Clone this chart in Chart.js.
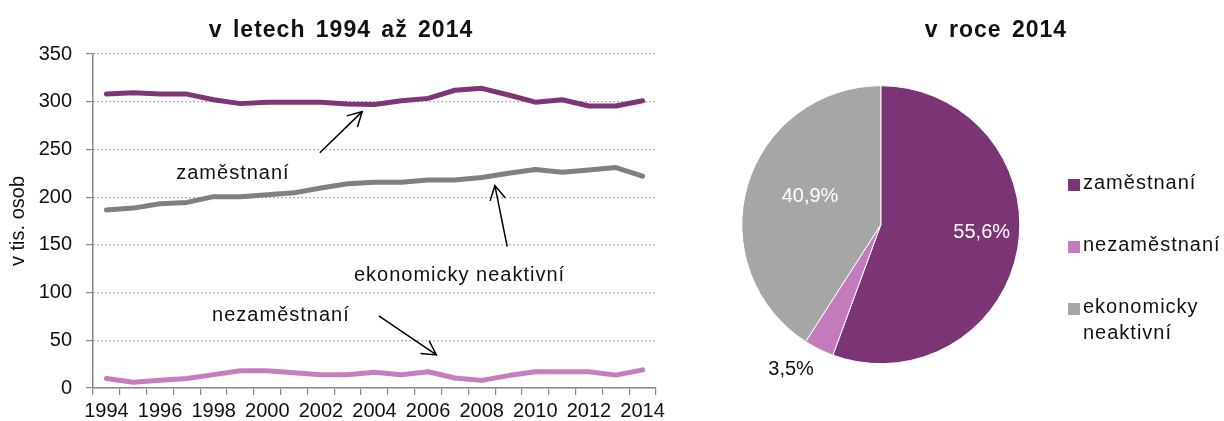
<!DOCTYPE html>
<html lang="cs">
<head>
<meta charset="UTF-8">
<title>Obyvatelstvo podle ekonomické aktivity</title>
<script src="https://cdn.jsdelivr.net/npm/chart.js@4"></script>
<style>
  body { margin: 0; background: #fff; font-family: "Liberation Sans", Arial, sans-serif; color: #111; }
  #wrap { position: relative; width: 1224px; height: 421px; overflow: hidden; }
  canvas { position: absolute; top: 0; }
  #lineChart { left: 0; }
  #pieChart { left: 700px; }
  .title { position: absolute; top: 16px; font-weight: bold; font-size: 23px; letter-spacing: 1px;
           word-spacing: 3px; white-space: nowrap; transform: translateX(-50%); }
  .lg-box { position: absolute; left: 1068px; width: 12px; height: 12px; }
  .lg-text { position: absolute; left: 1083px; width: 141px; font-size: 20px; line-height: 26px; letter-spacing: 1px; }
</style>
</head>
<body>
<div id="wrap">
  <canvas id="lineChart" width="680" height="421"></canvas>
  <canvas id="pieChart" width="524" height="421"></canvas>
  <div class="title" style="left:341px">v letech 1994 až 2014</div>
  <div class="title" style="left:996px">v roce 2014</div>
  <div id="legend"></div>
</div>
<script>
  // --- data ---
  const years = ['1994', '1995', '1996', '1997', '1998', '1999', '2000', '2001', '2002', '2003', '2004',
                 '2005', '2006', '2007', '2008', '2009', '2010', '2011', '2012', '2013', '2014'];
  const zamestnani = [308, 309.5, 308, 308, 302, 298, 299.5, 299.5, 299.5, 297.5, 297,
                      301, 303.5, 312, 314, 307, 299.5, 302, 295.5, 295.5, 301];
  const neaktivni = [186.5, 188.5, 193, 194.5, 200.5, 200.5, 202.5, 204.5, 209.5, 214, 215.5,
                     215.5, 218, 218, 220.5, 225, 229, 226, 228.5, 231, 222];
  const nezamestnani = [10, 6, 8, 10, 14, 18, 18, 16, 14, 14, 16.5,
                        14, 17, 10.5, 8, 13, 17, 17, 17, 13.5, 19];

  const pieLabels = ['zaměstnaní', 'nezaměstnaní', 'ekonomicky neaktivní'];
  const pieShares = [55.6, 3.5, 40.9];

  const lineColors = ['#7D3576', '#C57DBE', '#808080'];
  const pieColors = ['#7B3574', '#C47BBC', '#A6A6A6'];
  const FONT = '"Liberation Sans", Arial, sans-serif';

  // text notes with arrows, placed in data units (category index, value)
  const notes = [
    { text: 'zaměstnaní', at: [4.72, 219], from: [7.96, 246.6], to: [9.54, 289.6] },
    { text: 'ekonomicky neaktivní', at: [13.17, 112.5], from: [14.95, 148.1], to: [14.49, 212.1] },
    { text: 'nezaměstnaní', at: [6.51, 70.2], from: [10.16, 75.5], to: [12.31, 34.6] }
  ];

  const notesPlugin = {
    id: 'notes',
    afterDatasetsDraw(chart) {
      const { ctx, scales: { x, y } } = chart;
      ctx.save();
      ctx.font = '20px ' + FONT;
      ctx.letterSpacing = '1px';
      ctx.fillStyle = '#111';
      ctx.textAlign = 'center';
      ctx.textBaseline = 'alphabetic';
      notes.forEach(n => ctx.fillText(n.text, x.getPixelForValue(n.at[0]), y.getPixelForValue(n.at[1])));
      ctx.strokeStyle = '#000';
      ctx.lineWidth = 1.5;
      notes.forEach(n => {
        const x1 = x.getPixelForValue(n.from[0]), y1 = y.getPixelForValue(n.from[1]);
        const x2 = x.getPixelForValue(n.to[0]), y2 = y.getPixelForValue(n.to[1]);
        const a = Math.atan2(y2 - y1, x2 - x1);
        const len = 16, spread = 0.5;
        ctx.beginPath();
        ctx.moveTo(x1, y1);
        ctx.lineTo(x2, y2);
        ctx.moveTo(x2 - len * Math.cos(a - spread), y2 - len * Math.sin(a - spread));
        ctx.lineTo(x2, y2);
        ctx.lineTo(x2 - len * Math.cos(a + spread), y2 - len * Math.sin(a + spread));
        ctx.stroke();
      });
      ctx.restore();
    }
  };

  const lineDs = (data, color) => ({
    data, borderColor: color, borderWidth: 5, pointRadius: 0, tension: 0,
    borderJoinStyle: 'round', borderCapStyle: 'round', fill: false
  });

  new Chart(document.getElementById('lineChart'), {
    type: 'line',
    data: {
      labels: years,
      datasets: [
        lineDs(zamestnani, lineColors[0]),
        lineDs(nezamestnani, lineColors[1]),
        lineDs(neaktivni, lineColors[2])
      ]
    },
    options: {
      responsive: false,
      animation: false,
      events: [],
      layout: { padding: { top: 54, right: 24, left: 0, bottom: 0 } },
      plugins: { legend: { display: false }, title: { display: false }, tooltip: { enabled: false } },
      scales: {
        x: {
          offset: true,
          grid: { offset: true, drawOnChartArea: false, color: '#888', tickLength: 7, lineWidth: 1.2 },
          border: { color: '#888', width: 1.5 },
          ticks: {
            autoSkip: false, maxRotation: 0, padding: 4, color: '#111', font: { size: 20, family: FONT },
            callback(v, i) { return i % 2 === 0 ? this.getLabelForValue(v) : ''; }
          },
          afterFit(s) { s.height = 33; }
        },
        y: {
          min: 0, max: 350,
          grid: { color: '#999', lineWidth: 1.2, tickLength: 7, tickColor: '#888', tickWidth: 1.2 },
          border: { color: '#888', width: 1.5, dash: [1.5, 2.5] },
          ticks: { stepSize: 50, padding: 14, color: '#111', font: { size: 20, family: FONT } },
          title: { display: true, text: 'v tis. osob', color: '#111', font: { size: 20, family: FONT },
                   padding: { top: 6, bottom: 0 } },
          afterFit(s) { s.width = 93; }
        }
      }
    },
    plugins: [notesPlugin]
  });

  // percentage labels: radius fraction and angle shift from slice middle (degrees)
  const pieLabelPlace = [[0.728, -5.7, '#fff'], [1.223, 5.4, '#111'], [0.548, 5.3, '#fff']];

  const pieLabelsPlugin = {
    id: 'pieLabels',
    afterDatasetsDraw(chart) {
      const { ctx } = chart;
      const meta = chart.getDatasetMeta(0);
      ctx.save();
      ctx.font = '20px ' + FONT;
      ctx.textAlign = 'center';
      ctx.textBaseline = 'middle';
      meta.data.forEach((arc, i) => {
        const p = arc.getProps(['x', 'y', 'startAngle', 'endAngle', 'outerRadius'], true);
        const [rf, da, col] = pieLabelPlace[i];
        const mid = (p.startAngle + p.endAngle) / 2 + da * Math.PI / 180;
        const r = p.outerRadius * rf;
        ctx.fillStyle = col;
        ctx.fillText(pieShares[i].toFixed(1).replace('.', ',') + '%', p.x + Math.cos(mid) * r, p.y + Math.sin(mid) * r);
      });
      ctx.restore();
    }
  };

  new Chart(document.getElementById('pieChart'), {
    type: 'pie',
    data: {
      labels: pieLabels,
      datasets: [{ data: pieShares, backgroundColor: pieColors, borderColor: '#fff', borderWidth: 1,
                   hoverOffset: 0, offset: 0 }]
    },
    options: {
      responsive: false,
      animation: false,
      events: [],
      layout: { padding: { left: 41.3, right: 203.7, top: 85.2, bottom: 56.8 } },
      plugins: { legend: { display: false }, title: { display: false }, tooltip: { enabled: false } }
    },
    plugins: [pieLabelsPlugin]
  });

  // legend on the right of the pie
  const legendTops = [169, 231, 293];
  const legend = document.getElementById('legend');
  pieLabels.forEach((name, i) => {
    const box = document.createElement('div');
    box.className = 'lg-box';
    box.style.top = (legendTops[i] + 10) + 'px';
    box.style.background = pieColors[i];
    const txt = document.createElement('div');
    txt.className = 'lg-text';
    txt.style.top = legendTops[i] + 'px';
    txt.textContent = name;
    legend.appendChild(box);
    legend.appendChild(txt);
  });
</script>
</body>
</html>
